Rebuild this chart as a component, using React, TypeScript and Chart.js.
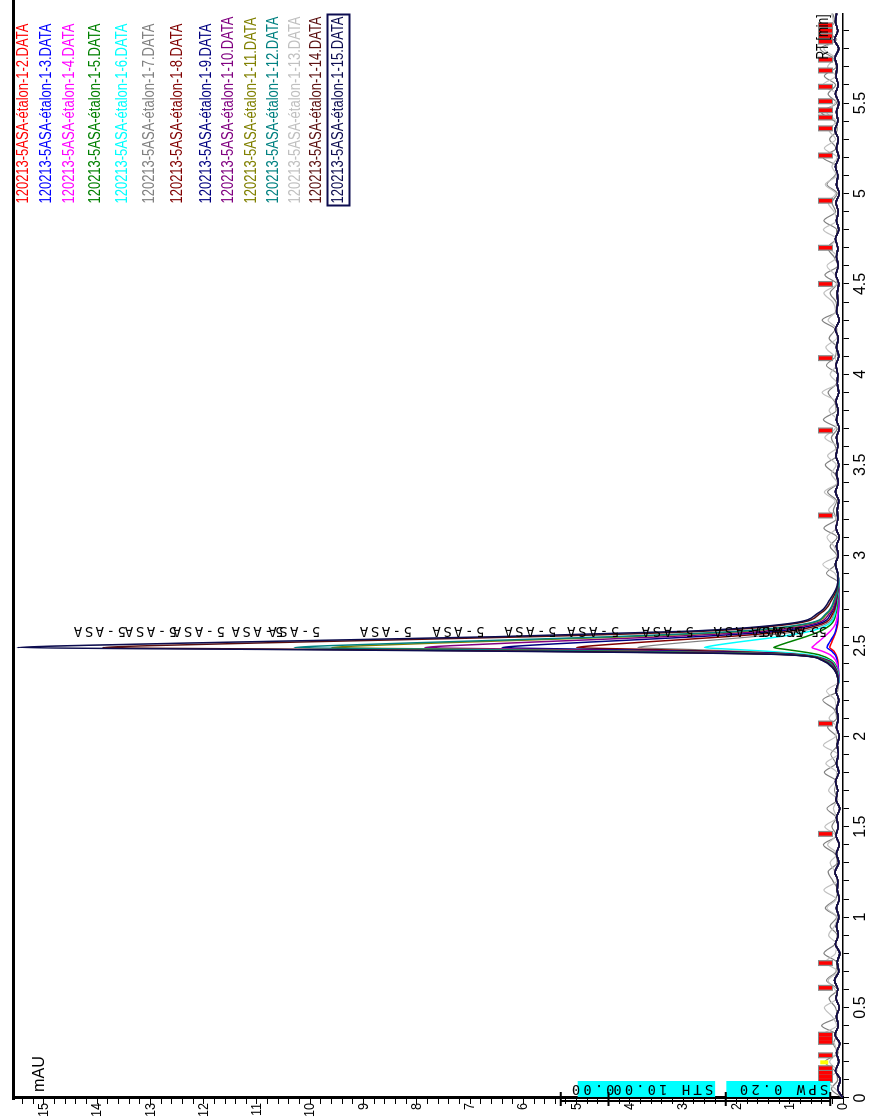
import React, { useEffect, useRef } from "react";
import { Chart, registerables } from "chart.js";

Chart.register(...registerables);

// ---------- data ----------
const seriesNames = [
  "120213-5ASA-étalon-1-2.DATA",
  "120213-5ASA-étalon-1-3.DATA",
  "120213-5ASA-étalon-1-4.DATA",
  "120213-5ASA-étalon-1-5.DATA",
  "120213-5ASA-étalon-1-6.DATA",
  "120213-5ASA-étalon-1-7.DATA",
  "120213-5ASA-étalon-1-8.DATA",
  "120213-5ASA-étalon-1-9.DATA",
  "120213-5ASA-étalon-1-10.DATA",
  "120213-5ASA-étalon-1-11.DATA",
  "120213-5ASA-étalon-1-12.DATA",
  "120213-5ASA-étalon-1-13.DATA",
  "120213-5ASA-étalon-1-14.DATA",
  "120213-5ASA-étalon-1-15.DATA",
];
const seriesColors = [
  "#ff0000", "#0000ff", "#ff00ff", "#008000", "#00ffff", "#808080", "#800000",
  "#000080", "#800080", "#808000", "#008080", "#c0c0c0", "#5a0f0f", "#0c0c50",
];
// which baseline each series uses (0 = quiet, 1 = spiky gray, 2 = spiky silver)
const seriesBaseline = [0, 0, 0, 0, 0, 1, 0, 0, 0, 0, 0, 2, 0, 0];
// legend row offsets from the top of the plot (px)
const legendRowOffset = [10, 33, 56, 82, 109, 136, 164, 193, 215, 238, 260, 282, 303, 325];

// baseline samples every 0.05 min from 0 to 6.00 min (mAU)
const baselineStep = 0.05;
const noiseQuiet = [
  0.00, 0.10, 0.05, 0.14, 0.08, 0.12, 0.06, 0.15, 0.09, 0.12,
  0.07, 0.13, 0.10, 0.16, 0.08, 0.11, 0.06, 0.14, 0.09, 0.12,
  0.08, 0.12, 0.07, 0.11, 0.10, 0.15, 0.08, 0.12, 0.07, 0.13,
  0.09, 0.12, 0.06, 0.13, 0.10, 0.14, 0.08, 0.12, 0.09, 0.11,
  0.07, 0.12, 0.09, 0.12, 0.08, 0.13, 0.10, 0.12, 0.09, 0.11,
  0.12, 0.10, 0.13, 0.11, 0.09, 0.13, 0.08, 0.12, 0.10, 0.14,
  0.09, 0.12, 0.07, 0.13, 0.10, 0.11, 0.08, 0.14, 0.09, 0.12,
  0.08, 0.13, 0.10, 0.12, 0.07, 0.12, 0.09, 0.13, 0.08, 0.11,
  0.10, 0.13, 0.08, 0.12, 0.09, 0.14, 0.07, 0.12, 0.10, 0.11,
  0.08, 0.13, 0.09, 0.12, 0.10, 0.14, 0.08, 0.12, 0.09, 0.13,
  0.07, 0.12, 0.10, 0.14, 0.08, 0.12, 0.09, 0.15, 0.10, 0.12,
  0.08, 0.14, 0.09, 0.13, 0.11, 0.15, 0.08, 0.16, 0.10, 0.14, 0.12,
];
const noiseGray = [
  0.00, 0.22, 0.10, 0.15, 0.34, 0.09, 0.18, 0.12, 0.40, 0.11,
  0.14, 0.26, 0.10, 0.31, 0.13, 0.12, 0.36, 0.15, 0.11, 0.24,
  0.12, 0.33, 0.14, 0.10, 0.19, 0.28, 0.11, 0.15, 0.37, 0.12,
  0.21, 0.13, 0.30, 0.10, 0.16, 0.12, 0.35, 0.14, 0.23, 0.11,
  0.13, 0.29, 0.12, 0.17, 0.38, 0.10, 0.14, 0.25, 0.12, 0.32,
  0.15, 0.11, 0.27, 0.13, 0.35, 0.12, 0.16, 0.10, 0.31, 0.14,
  0.12, 0.24, 0.11, 0.36, 0.13, 0.18, 0.12, 0.29, 0.10, 0.15,
  0.33, 0.12, 0.14, 0.22, 0.11, 0.37, 0.13, 0.16, 0.28, 0.12,
  0.10, 0.31, 0.14, 0.12, 0.26, 0.15, 0.39, 0.11, 0.13, 0.24,
  0.12, 0.34, 0.10, 0.17, 0.29, 0.13, 0.12, 0.36, 0.14, 0.21,
  0.11, 0.30, 0.15, 0.12, 0.38, 0.13, 0.25, 0.11, 0.16, 0.41,
  0.12, 0.28, 0.14, 0.35, 0.13, 0.19, 0.43, 0.12, 0.30, 0.15, 0.20,
];
const noiseSilver = [
  0.00, 0.14, 0.31, 0.11, 0.25, 0.13, 0.16, 0.38, 0.12, 0.20,
  0.35, 0.12, 0.15, 0.28, 0.10, 0.33, 0.14, 0.12, 0.27, 0.16,
  0.11, 0.30, 0.13, 0.36, 0.12, 0.15, 0.24, 0.11, 0.29, 0.14,
  0.34, 0.12, 0.18, 0.11, 0.27, 0.15, 0.12, 0.32, 0.10, 0.37,
  0.14, 0.12, 0.26, 0.13, 0.15, 0.31, 0.11, 0.20, 0.13, 0.36,
  0.12, 0.28, 0.16, 0.11, 0.33, 0.14, 0.24, 0.12, 0.15, 0.38,
  0.11, 0.17, 0.30, 0.13, 0.12, 0.27, 0.15, 0.35, 0.11, 0.22,
  0.13, 0.29, 0.10, 0.34, 0.15, 0.12, 0.26, 0.14, 0.39, 0.11,
  0.24, 0.13, 0.16, 0.32, 0.12, 0.11, 0.28, 0.14, 0.19, 0.36,
  0.12, 0.15, 0.30, 0.11, 0.25, 0.13, 0.37, 0.12, 0.17, 0.28,
  0.14, 0.33, 0.12, 0.21, 0.11, 0.35, 0.14, 0.26, 0.13, 0.31,
  0.15, 0.12, 0.38, 0.14, 0.29, 0.16, 0.36, 0.13, 0.41, 0.18, 0.22,
];
const baselines = [noiseQuiet, noiseGray, noiseSilver];

// 5-ASA peak region (min) and each run's response (mAU)
const peakRT = [2.30, 2.38, 2.42, 2.45, 2.46, 2.47, 2.48, 2.49, 2.50, 2.52, 2.55, 2.58, 2.62, 2.68, 2.75, 2.85];
const peak_1_2 = [0.08, 0.09, 0.10, 0.13, 0.15, 0.17, 0.21, 0.25, 0.24, 0.21, 0.17, 0.13, 0.10, 0.09, 0.08, 0.08];
const peak_1_3 = [0.08, 0.09, 0.11, 0.15, 0.18, 0.21, 0.26, 0.30, 0.29, 0.25, 0.19, 0.14, 0.11, 0.09, 0.08, 0.08];
const peak_1_4 = [0.08, 0.10, 0.14, 0.24, 0.31, 0.39, 0.49, 0.58, 0.55, 0.47, 0.35, 0.24, 0.14, 0.10, 0.09, 0.08];
const peak_1_5 = [0.08, 0.12, 0.22, 0.45, 0.62, 0.84, 1.08, 1.30, 1.22, 1.02, 0.70, 0.43, 0.22, 0.13, 0.10, 0.08];
const peak_1_6 = [0.08, 0.13, 0.26, 0.62, 0.98, 1.45, 2.05, 2.60, 2.45, 1.98, 1.20, 0.62, 0.27, 0.15, 0.11, 0.08];
const peak_1_7 = [0.09, 0.14, 0.28, 0.72, 1.20, 1.95, 2.90, 3.85, 3.62, 2.90, 1.70, 0.82, 0.33, 0.17, 0.12, 0.09];
const peak_1_8 = [0.09, 0.15, 0.30, 0.80, 1.35, 2.40, 3.70, 5.00, 4.70, 3.75, 2.20, 1.02, 0.40, 0.19, 0.12, 0.09];
const peak_1_9 = [0.09, 0.16, 0.32, 0.85, 1.50, 2.90, 4.65, 6.40, 6.02, 4.78, 2.75, 1.26, 0.48, 0.22, 0.13, 0.09];
const peak_1_10 = [0.09, 0.17, 0.33, 0.90, 1.70, 3.45, 5.65, 7.85, 7.38, 5.85, 3.35, 1.52, 0.57, 0.25, 0.14, 0.09];
const peak_1_11 = [0.09, 0.18, 0.35, 0.95, 1.95, 4.15, 6.85, 9.60, 9.02, 7.12, 4.05, 1.85, 0.68, 0.29, 0.16, 0.09];
const peak_1_12 = [0.09, 0.18, 0.36, 0.97, 2.05, 4.40, 7.35, 10.30, 9.68, 7.64, 4.35, 1.98, 0.72, 0.31, 0.17, 0.09];
const peak_1_13 = [0.09, 0.20, 0.40, 1.05, 2.85, 6.50, 10.95, 15.40, 14.48, 11.40, 6.47, 2.92, 1.07, 0.46, 0.25, 0.10];
const peak_1_14 = [0.09, 0.19, 0.38, 1.02, 2.60, 5.85, 9.88, 13.90, 13.07, 10.29, 5.84, 2.64, 0.97, 0.42, 0.22, 0.10];
const peak_1_15 = [0.09, 0.20, 0.40, 1.05, 2.85, 6.55, 11.02, 15.50, 14.57, 11.47, 6.51, 2.95, 1.08, 0.47, 0.26, 0.10];
const peakValues = [
  peak_1_2, peak_1_3, peak_1_4, peak_1_5, peak_1_6, peak_1_7, peak_1_8,
  peak_1_9, peak_1_10, peak_1_11, peak_1_12, peak_1_13, peak_1_14, peak_1_15,
];

// peak name labels: where each "5-ASA" label starts (mAU)
const peakLabelText = "5-ASA";
const peakLabelRT = 2.585;
const peakLabelMAU = [0.30, 0.45, 0.75, 1.45, 2.80, 4.20, 5.38, 6.73, 8.09, 9.81, 10.5, 11.6, 13.46, 12.5];

// integration event marks
const markRT = [0.10, 0.12, 0.14, 0.165, 0.236, 0.31, 0.33, 0.35, 0.609, 0.746, 1.46, 2.07, 3.22, 3.69, 4.09, 4.50, 4.70, 4.96, 5.21, 5.36, 5.42, 5.46, 5.51, 5.59, 5.68, 5.74, 5.84, 5.87, 5.90, 5.93];
const markMAU = [0.33, 0.33, 0.33, 0.33, 0.33, 0.33, 0.33, 0.33, 0.33, 0.33, 0.33, 0.33, 0.33, 0.33, 0.33, 0.33, 0.33, 0.33, 0.33, 0.33, 0.33, 0.33, 0.33, 0.33, 0.33, 0.33, 0.33, 0.33, 0.33, 0.33];
const yellowRT = [0.197];
const yellowMAU = [0.35];

// integration parameter boxes
const eventText = ["SPW 0.20", "STH 10.00", "0.00"];
const eventFrom = [0.24, 2.40, 4.25];
const eventTo = [2.19, 4.98, 5.15];

// axis settings
const rtMin = 0;
const rtMax = 5.995;
const mauMin = 0;
const mauMax = 15.57;
const mauTickLabels = [0, 1, 2, 3, 4, 5, 6, 7, 8, 9, 10, 11, 12, 13, 14, 15];

const FONT = '"Liberation Sans Narrow", "Liberation Sans", Arial, sans-serif';

function buildSeries(i: number) {
  const noise = baselines[seriesBaseline[i]];
  const pts: { x: number; y: number }[] = [];
  const first = peakRT[0];
  const last = peakRT[peakRT.length - 1];
  noise.forEach((v, k) => {
    const rt = +(k * baselineStep).toFixed(3);
    if (rt < first - 1e-9) pts.push({ x: rt, y: v });
  });
  peakRT.forEach((rt, k) => pts.push({ x: rt, y: peakValues[i][k] }));
  noise.forEach((v, k) => {
    const rt = +(k * baselineStep).toFixed(3);
    if (rt > last + 1e-9) pts.push({ x: rt, y: v });
  });
  return pts;
}

function condensedText(ctx: CanvasRenderingContext2D, text: string, x: number, y: number, sx: number) {
  ctx.save();
  ctx.translate(x, y);
  ctx.scale(sx, 1);
  ctx.fillText(text, 0, 0);
  ctx.restore();
}

const decorPlugin = {
  id: "decor",
  afterDatasetsDraw(chart: any) {
    const { ctx, chartArea: a, scales } = chart;
    const xs = scales.x;
    const ys = scales.y;
    ctx.save();
    // peak labels
    ctx.fillStyle = "#000";
    ctx.font = '14px "DejaVu Sans Mono", monospace';
    (ctx as any).letterSpacing = "2.5px";
    ctx.textAlign = "left";
    ctx.textBaseline = "middle";
    peakLabelMAU.forEach((m) => {
      ctx.save();
      ctx.translate(xs.getPixelForValue(peakLabelRT), ys.getPixelForValue(m));
      ctx.rotate(-Math.PI / 2);
      ctx.fillText(peakLabelText, 0, 0);
      ctx.restore();
    });
    (ctx as any).letterSpacing = "0px";

    // integration parameter boxes
    const x0 = xs.getPixelForValue(0) + 1;
    eventText.forEach((t, i) => {
      const yb = ys.getPixelForValue(eventFrom[i]);
      const yt = ys.getPixelForValue(eventTo[i]);
      if (i < 2) {
        ctx.fillStyle = "#00ffff";
        ctx.fillRect(x0, yt, 16, yb - yt);
      }
      ctx.save();
      ctx.translate(x0 + 8.5, yb - 2);
      ctx.rotate(-Math.PI / 2);
      ctx.fillStyle = "#000";
      ctx.font = '14px "DejaVu Sans Mono", monospace';
      (ctx as any).letterSpacing = "3px";
      ctx.textAlign = "left";
      ctx.textBaseline = "middle";
      ctx.fillText(t, 0, 0);
      ctx.restore();
    });
    (ctx as any).letterSpacing = "0px";
    // event brackets
    ctx.strokeStyle = "#000";
    ctx.lineWidth = 2;
    ctx.beginPath();
    ctx.moveTo(a.left - 3, ys.getPixelForValue(0.24));
    ctx.lineTo(a.left - 3, ys.getPixelForValue(5.3));
    [0.24, 2.2, 4.4, 5.3].forEach((m) => {
      const y = ys.getPixelForValue(m);
      ctx.moveTo(a.left - 8, y);
      ctx.lineTo(a.left + 6, y);
    });
    ctx.stroke();
    ctx.restore();
  },
  afterDraw(chart: any) {
    const { ctx, chartArea: a, scales } = chart;
    const ys = scales.y;
    ctx.save();
    // top frame line
    ctx.strokeStyle = "#000";
    ctx.lineWidth = 3;
    ctx.beginPath();
    ctx.moveTo(a.left - 2, a.top);
    ctx.lineTo(chart.width, a.top);
    ctx.stroke();

    // mAU tick labels (narrow)
    ctx.fillStyle = "#000";
    ctx.font = "15px " + FONT;
    ctx.textAlign = "right";
    ctx.textBaseline = "middle";
    mauTickLabels.forEach((v) => {
      condensedText(ctx, String(v), a.left - 5, ys.getPixelForValue(v), 0.84);
    });

    // axis titles
    ctx.font = "17px " + FONT;
    ctx.textAlign = "left";
    ctx.textBaseline = "alphabetic";
    condensedText(ctx, "mAU", a.left + 6, a.top + 30, 0.95);
    const rtW = ctx.measureText("RT [min]").width;
    condensedText(ctx, "RT [min]", a.right - 46, a.bottom - 15, 45 / rtW);

    // legend (custom, one row per run)
    ctx.font = "16px " + FONT;
    ctx.textBaseline = "middle";
    const refW = ctx.measureText("120213-5ASA-étalon-1-10.DATA").width;
    const sx = 187 / refW;
    const lx = a.right - 190;
    seriesNames.forEach((name, i) => {
      const y = a.top + legendRowOffset[i];
      ctx.fillStyle = seriesColors[i];
      condensedText(ctx, name, lx, y, sx);
      if (i === seriesNames.length - 1) {
        const w = ctx.measureText(name).width * sx;
        ctx.strokeStyle = "#0c0c50";
        ctx.lineWidth = 2;
        ctx.strokeRect(lx - 2, y - 11, w + 4, 22);
      }
    });
    ctx.restore();
  },
};

export default function App() {
  const ref = useRef<HTMLCanvasElement | null>(null);
  useEffect(() => {
    if (!ref.current) return;
    Chart.defaults.font.family = FONT;
    const datasets: any[] = seriesNames.map((name, i) => ({
      type: "line",
      label: name,
      data: buildSeries(i),
      borderColor: seriesColors[i],
      backgroundColor: seriesColors[i],
      borderWidth: seriesBaseline[i] === 0 ? 1.5 : 1.2,
      pointRadius: 0,
      cubicInterpolationMode: "monotone",
      order: 20 - i,
    }));
    datasets.push({
      type: "scatter",
      label: "marks-shadow",
      data: markRT.map((x, i) => ({ x, y: markMAU[i] })),
      pointStyle: "line",
      rotation: 90,
      pointRadius: 7.5,
      borderWidth: 6,
      borderColor: "#8a8a8a",
      order: 2,
    });
    datasets.push({
      type: "scatter",
      label: "marks",
      data: markRT.map((x, i) => ({ x, y: markMAU[i] })),
      pointStyle: "line",
      rotation: 90,
      pointRadius: 6.5,
      borderWidth: 3.5,
      borderColor: "#ff0000",
      order: 1,
    });
    datasets.push({
      type: "scatter",
      label: "yellow",
      data: yellowRT.map((x, i) => ({ x, y: yellowMAU[i] })),
      pointStyle: "line",
      rotation: 90,
      pointRadius: 4,
      borderWidth: 4,
      borderColor: "#ffff00",
      order: 0,
    });

    const chart = new Chart(ref.current, {
      type: "line",
      data: { datasets },
      options: {
        responsive: false,
        animation: false,
        devicePixelRatio: 1,
        layout: { padding: { top: 10, right: 4, left: 0, bottom: 0 } },
        plugins: { legend: { display: false }, tooltip: { enabled: false } },
        scales: {
          x: {
            type: "linear",
            min: rtMin,
            max: rtMax,
            position: "bottom",
            border: { color: "#000", width: 1.5 },
            grid: { drawOnChartArea: false, drawTicks: true, tickLength: 6, color: "#000", lineWidth: 1 },
            ticks: {
              stepSize: 0.1,
              autoSkip: false,
              includeBounds: false,
              maxRotation: 0,
              padding: 2,
              color: "#000",
              font: { size: 16, family: FONT },
              callback: (v: any) => {
                const r = Math.round(Number(v) * 10);
                return r % 5 === 0 ? String(r / 10) : "";
              },
            },
            afterFit: (s: any) => {
              s.height = 31;
            },
          },
          y: {
            type: "linear",
            min: mauMin,
            max: mauMax,
            border: { color: "#000", width: 3 },
            grid: { drawOnChartArea: false, drawTicks: true, tickLength: 6, color: "#000", lineWidth: 1 },
            ticks: {
              stepSize: 0.2,
              autoSkip: false,
              includeBounds: false,
              padding: 1,
              color: "#000",
              font: { size: 15, family: FONT },
              callback: () => "",
            },
            afterFit: (s: any) => {
              s.width = 20;
            },
          },
        },
      },
      plugins: [decorPlugin],
    } as any);
    return () => chart.destroy();
  }, []);

  return (
    <div
      style={{
        position: "fixed",
        left: 0,
        top: 0,
        width: 874,
        height: 1118,
        overflow: "hidden",
        background: "#fff",
      }}
    >
      <div
        style={{
          position: "absolute",
          left: 0,
          top: 0,
          width: 1118,
          height: 874,
          transformOrigin: "0 0",
          transform: "translateY(1118px) rotate(-90deg)",
        }}
      >
        <canvas ref={ref} width={1118} height={874} style={{ display: "block" }} />
      </div>
    </div>
  );
}
